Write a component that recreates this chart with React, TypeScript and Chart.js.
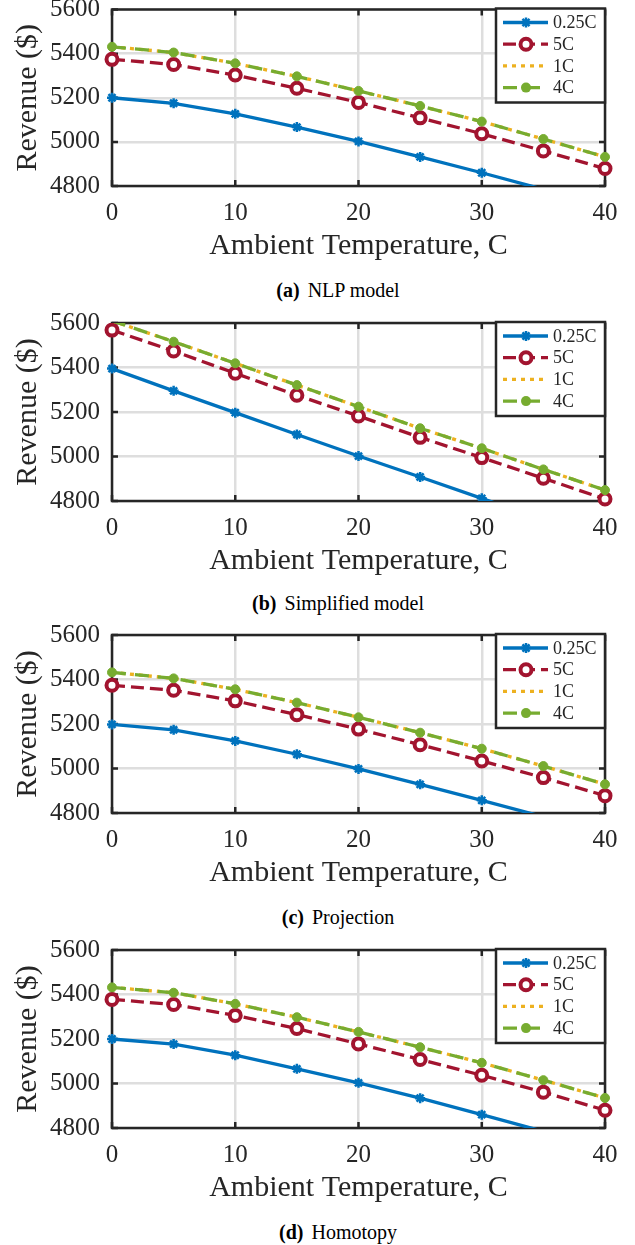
import React, { useEffect, useRef } from 'react';
import { Chart, registerables } from 'chart.js';

Chart.register(...registerables);

// ---------- data ----------
const temps = [0, 5, 10, 15, 20, 25, 30, 35, 40];
const xTicks = [0, 10, 20, 30, 40];
const yTicks = [4800, 5000, 5200, 5400, 5600];
const seriesLabels = ['0.25C', '5C', '1C', '4C'];
const xTitle = 'Ambient Temperature, C';
const yTitle = 'Revenue ($)';

// (a) NLP model
const nlp025 = [5200, 5175, 5127, 5067, 5002, 4932, 4860, 4785, 4705];
const nlp5 = [5374, 5351, 5303, 5243, 5179, 5109, 5037, 4959, 4879];
const nlp1 = [5431, 5405, 5356, 5297, 5231, 5163, 5092, 5013, 4932];
const nlp4 = [5431, 5405, 5356, 5297, 5231, 5163, 5092, 5013, 4932];

// (b) Simplified model
const simp025 = [5395, 5295, 5197, 5099, 5002, 4908, 4812, 4715, 4618];
const simp5 = [5568, 5474, 5374, 5275, 5182, 5086, 4995, 4902, 4809];
const simp1 = [5610, 5516, 5419, 5321, 5224, 5127, 5037, 4942, 4849];
const simp4 = [5610, 5516, 5419, 5321, 5224, 5127, 5037, 4942, 4849];

// (c) Projection
const proj025 = [5198, 5174, 5124, 5064, 4998, 4929, 4857, 4783, 4703];
const proj5 = [5374, 5352, 5304, 5242, 5177, 5107, 5034, 4959, 4878];
const proj1 = [5432, 5405, 5356, 5296, 5230, 5161, 5089, 5011, 4929];
const proj4 = [5432, 5405, 5356, 5296, 5230, 5161, 5089, 5011, 4929];

// (d) Homotopy
const homo025 = [5200, 5177, 5127, 5066, 5003, 4934, 4860, 4785, 4705];
const homo5 = [5378, 5355, 5306, 5247, 5178, 5108, 5037, 4961, 4880];
const homo1 = [5432, 5408, 5358, 5298, 5232, 5163, 5093, 5015, 4935];
const homo4 = [5432, 5408, 5358, 5298, 5232, 5163, 5093, 5015, 4935];

const captionTags = ['(a)', '(b)', '(c)', '(d)'];
const captionTexts = ['NLP model', 'Simplified model', 'Projection', 'Homotopy'];

// ---------- style ----------
const FONT = "'Liberation Serif', 'Times New Roman', Times, serif";
const INK = '#262626';
const GRID = '#dedede';
const COLORS = ['#0072BD', '#A2142F', '#EDB120', '#77AC30'];
const DASHES: number[][] = [[], [13, 6], [4, 5], [14, 9]];
const LINE_W = 3.3;
const Y_MIN = 4800;
const Y_MAX = 5600;

const CANVAS_W = 635;
const PLOT_H = 178;
const XAXIS_H = 84;
const PANEL_TOPS = [0, 303, 615, 930];
const PANEL_PAD = [8, 20, 20, 20];
const CAPTION_CY = [290, 603, 917, 1232];

function drawMarker(ctx: CanvasRenderingContext2D, i: number, x: number, y: number) {
  const c = COLORS[i];
  ctx.save();
  ctx.setLineDash([]);
  if (i === 0) {
    ctx.strokeStyle = c;
    ctx.lineWidth = 2.5;
    const r = 5;
    ctx.beginPath();
    for (let k = 0; k < 4; k++) {
      const a = (k * Math.PI) / 4;
      ctx.moveTo(x - r * Math.cos(a), y - r * Math.sin(a));
      ctx.lineTo(x + r * Math.cos(a), y + r * Math.sin(a));
    }
    ctx.stroke();
  } else if (i === 1) {
    ctx.beginPath();
    ctx.arc(x, y, 5.5, 0, Math.PI * 2);
    ctx.fillStyle = '#fff';
    ctx.fill();
    ctx.lineWidth = 4;
    ctx.strokeStyle = c;
    ctx.stroke();
  } else if (i === 3) {
    ctx.beginPath();
    ctx.arc(x, y, 5, 0, Math.PI * 2);
    ctx.fillStyle = c;
    ctx.fill();
  }
  ctx.restore();
}

const framePlugin = {
  id: 'matlabFrame',
  beforeDatasetsDraw(chart: any) {
    const { ctx, chartArea } = chart;
    const { left, right, top, bottom } = chartArea;
    const xs = chart.scales.x;
    const ys = chart.scales.y;
    ctx.save();
    ctx.strokeStyle = INK;
    ctx.lineWidth = 2.5;
    ctx.setLineDash([]);
    const tl = 6;
    ctx.beginPath();
    xTicks.forEach((v) => {
      const px = xs.getPixelForValue(v);
      ctx.moveTo(px, bottom);
      ctx.lineTo(px, bottom - tl);
      ctx.moveTo(px, top);
      ctx.lineTo(px, top + tl);
    });
    yTicks.forEach((v) => {
      const py = ys.getPixelForValue(v);
      ctx.moveTo(left, py);
      ctx.lineTo(left + tl, py);
      ctx.moveTo(right, py);
      ctx.lineTo(right - tl, py);
    });
    ctx.stroke();
    ctx.strokeRect(left, top, right - left, bottom - top);
    ctx.restore();
  },
  afterDatasetsDraw(chart: any) {
    const { ctx, chartArea } = chart;
    const { right, top } = chartArea;
    const lw = 109;
    const lh = 94;
    const lx = right - lw;
    const ly = top - 1;
    ctx.save();
    ctx.fillStyle = '#fff';
    ctx.fillRect(lx, ly, lw, lh);
    ctx.strokeStyle = INK;
    ctx.lineWidth = 2.5;
    ctx.setLineDash([]);
    ctx.strokeRect(lx, ly, lw, lh);
    ctx.font = `18px ${FONT}`;
    ctx.textBaseline = 'middle';
    ctx.textAlign = 'left';
    seriesLabels.forEach((lab, i) => {
      const cy = ly + 14 + 21.7 * i;
      ctx.save();
      ctx.strokeStyle = COLORS[i];
      ctx.lineWidth = LINE_W;
      ctx.setLineDash(DASHES[i]);
      ctx.beginPath();
      ctx.moveTo(lx + 7, cy);
      ctx.lineTo(lx + 52, cy);
      ctx.stroke();
      ctx.restore();
      drawMarker(ctx, i, lx + 30, cy);
      ctx.fillStyle = INK;
      ctx.fillText(lab, lx + 57, cy + 1);
    });
    ctx.restore();
  },
};

// hide markers whose point lies outside the y range (MATLAB clips them)
const radiusInRange = (r: number) => (c: any) => {
  const y = c.raw && typeof c.raw.y === 'number' ? c.raw.y : Y_MIN;
  return y < Y_MIN || y > Y_MAX ? 0 : r;
};

function buildDatasets(series: number[][]) {
  return series.map((vals, i) => {
    const base: any = {
      label: seriesLabels[i],
      data: temps.map((t, j) => ({ x: t, y: vals[j] })),
      borderColor: COLORS[i],
      backgroundColor: COLORS[i],
      borderWidth: LINE_W,
      borderDash: DASHES[i],
      tension: 0,
      fill: false,
      order: 3 - i,
      clip: { left: 10, right: 10, top: 0, bottom: i === 0 ? 0 : 10 },
    };
    if (i === 0) {
      Object.assign(base, {
        pointStyle: 'star',
        pointRadius: radiusInRange(5),
        pointBorderWidth: 2.5,
        pointBorderColor: COLORS[0],
        pointBackgroundColor: COLORS[0],
      });
    } else if (i === 1) {
      Object.assign(base, {
        pointStyle: 'circle',
        pointRadius: radiusInRange(5.5),
        pointBorderWidth: 4,
        pointBorderColor: COLORS[1],
        pointBackgroundColor: '#ffffff',
      });
    } else if (i === 2) {
      Object.assign(base, { pointRadius: 0 });
    } else {
      Object.assign(base, {
        pointStyle: 'circle',
        pointRadius: radiusInRange(4.5),
        pointBorderWidth: 1,
        pointBorderColor: COLORS[3],
        pointBackgroundColor: COLORS[3],
      });
    }
    return base;
  });
}

function Panel({ series, top, pad }: { series: number[][]; top: number; pad: number }) {
  const ref = useRef<HTMLCanvasElement | null>(null);
  const height = pad + PLOT_H + XAXIS_H;
  useEffect(() => {
    if (!ref.current) return;
    const chart = new Chart(ref.current, {
      type: 'line',
      data: { datasets: buildDatasets(series) },
      options: {
        animation: false,
        responsive: false,
        devicePixelRatio: 1,
        events: [],
        layout: { padding: { top: pad, right: 30, bottom: 0, left: 0 } },
        plugins: { legend: { display: false }, tooltip: { enabled: false } },
        scales: {
          x: {
            type: 'linear',
            min: 0,
            max: 40,
            afterBuildTicks: (s: any) => {
              s.ticks = xTicks.map((v) => ({ value: v }));
            },
            afterFit: (s: any) => {
              s.height = XAXIS_H;
              s.paddingLeft = 0;
              s.paddingRight = 0;
            },
            ticks: {
              padding: 12,
              maxRotation: 0,
              autoSkip: false,
              color: INK,
              font: { family: FONT, size: 25 },
              callback: (v: any) => String(v),
            },
            grid: { color: GRID, lineWidth: 2.5, drawTicks: false },
            border: { display: false },
            title: {
              display: true,
              text: xTitle,
              color: INK,
              font: { family: FONT, size: 30 },
              padding: { top: 0, bottom: 6 },
            },
          },
          y: {
            type: 'linear',
            min: Y_MIN,
            max: Y_MAX,
            afterBuildTicks: (s: any) => {
              s.ticks = yTicks.map((v) => ({ value: v }));
            },
            afterFit: (s: any) => {
              s.width = 112;
              s.paddingTop = 0;
              s.paddingBottom = 0;
            },
            ticks: {
              padding: 12,
              color: INK,
              font: { family: FONT, size: 25 },
              callback: (v: any) => String(v),
            },
            grid: { color: GRID, lineWidth: 2.5, drawTicks: false },
            border: { display: false },
            title: {
              display: true,
              text: yTitle,
              color: INK,
              font: { family: FONT, size: 30 },
              padding: { top: 10, bottom: 0 },
            },
          },
        },
      } as any,
      plugins: [framePlugin],
    });
    return () => chart.destroy();
  }, [series, pad]);
  return (
    <div style={{ position: 'absolute', left: 0, top, width: CANVAS_W, height }}>
      <canvas ref={ref} width={CANVAS_W} height={height} style={{ display: 'block' }} />
    </div>
  );
}

const PANELS: number[][][] = [
  [nlp025, nlp5, nlp1, nlp4],
  [simp025, simp5, simp1, simp4],
  [proj025, proj5, proj1, proj4],
  [homo025, homo5, homo1, homo4],
];

export default function App() {
  return (
    <div
      style={{
        position: 'absolute',
        left: 0,
        top: 0,
        width: 635,
        height: 1245,
        background: '#fff',
        overflow: 'hidden',
      }}
    >
      {PANELS.map((s, i) => (
        <Panel key={i} series={s} top={PANEL_TOPS[i]} pad={PANEL_PAD[i]} />
      ))}
      {captionTexts.map((t, i) => (
        <div
          key={'c' + i}
          style={{
            position: 'absolute',
            left: 338,
            top: CAPTION_CY[i] - 12,
            transform: 'translateX(-50%)',
            whiteSpace: 'nowrap',
            fontFamily: FONT,
            fontSize: 20,
            lineHeight: '24px',
            color: '#000',
          }}
        >
          <b>{captionTags[i]}</b>
          <span style={{ marginLeft: 8 }}>{t}</span>
        </div>
      ))}
    </div>
  );
}
